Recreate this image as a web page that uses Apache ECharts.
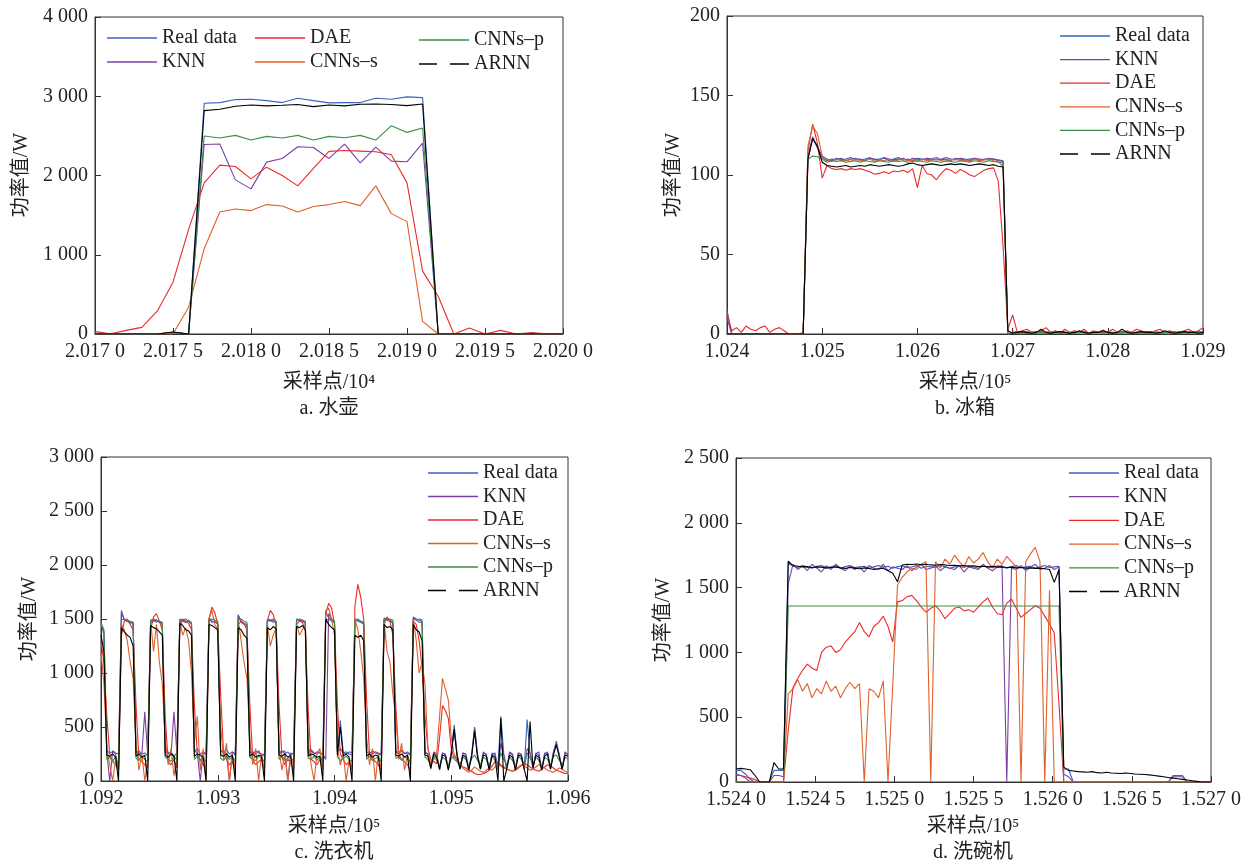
<!DOCTYPE html>
<html><head><meta charset="utf-8">
<script src="https://cdn.jsdelivr.net/npm/echarts@6/dist/echarts.min.js"></script>
<style>html,body{margin:0;padding:0;background:#fff}#c{width:1253px;height:866px}</style>
</head><body><div id="c"></div><script>
const seriesNames = ['Real data','KNN','DAE','CNNs–s','CNNs–p','ARNN'];
const colors = ['#3465c0','#7d3fa3','#ea2a2a','#e0602c','#3a8f45','#000000'];

// sample positions (x) of each panel
function range(start, step, n){ const r=[]; for(let i=0;i<n;i++) r.push(+(start+step*i).toFixed(3)); return r; }
const aX = range(20170, 1, 31);
const bX = range(102400, 5, 101);
const cX = range(109200, 2.5, 161);
const dX = range(152400, 3, 101);

// ---------- a. 水壶 ----------
const aReal = [0,0,0,0,0,20,0,2911,2920,2958,2962,2945,2920,2975,2945,2916,2920,2920,2975,2962,2992,2983,0,0,0,0,0,0,0,0,0];
const aKNN  = [0,0,0,0,0,20,0,2392,2397,1945,1831,2169,2215,2363,2354,2215,2397,2160,2359,2181,2173,2409,0,0,0,0,0,0,0,0,0];
const aDAE  = [30,4,46,84,291,654,1321,1907,2131,2114,1958,2105,2000,1869,2089,2304,2316,2308,2300,2262,1907,793,477,0,76,0,46,0,17,0,0];
const aCNNs = [0,0,0,0,0,0,338,1076,1540,1578,1557,1633,1616,1540,1608,1633,1671,1620,1869,1519,1418,160,0,0,0,0,0,0,0,0,0];
const aCNNp = [0,0,0,0,0,20,0,2498,2473,2506,2447,2494,2473,2506,2447,2494,2477,2506,2447,2629,2544,2599,0,0,0,0,0,0,0,0,0];
const aARNN = [0,0,0,0,0,25,0,2819,2835,2873,2890,2878,2886,2895,2869,2890,2878,2899,2903,2895,2882,2903,0,0,0,0,0,0,0,0,0];

// ---------- b. 冰箱 ----------
const bReal = [15,0,0,0,0,0,0,0,0,0,0,0,0,0,0,0,0,
 112,124,117,111,
 109,110,109.5,110.5,109,110,110.5,109.5,110,111,109.5,110,110.5,109,110,111,109.5,110,109,110.5,110,109.5,110,111,109.5,110,109,110.5,110,109.5,110,110.5,109,110,109.5,110,109,
 108.5,
 0,1,1.5,1,0.5,1,1.5,1,1,0.5, 1.5,1,1,0.5,1,1.5,1,0.5,1,1, 1.5,1,0.5,1,1.5,1,1,0.5,1,1.5, 1,1,0.5,1,1.5,1,0.5,1,1,1.5, 1,1];
const bKNN = [10,0,0,0,0,0,0,0,0,0,0,0,0,0,0,0,0,
 110,123,118,112,
 110,109,110.5,109.5,110,111,109.5,110,109,110.5,110,109.5,111,110,109.5,110,110.5,109,110.5,110,109.5,110.5,110,109.5,110,111,110,109.5,110.5,110,109,110.5,110,109.5,110.5,110,109.5,
 109,
 0,1,1,1.5,0.5,1,1,1.5,1,0.5, 1,1.5,1,0.5,1,1,1.5,0.5,1,1, 1,1.5,0.5,1,1,1.5,1,0.5,1,1, 1.5,1,0.5,1,1,1.5,0.5,1,1,1, 1.5,1];
const bDAE = [13,2,4,1,5,3,2,4,5,1,3,4,2,0,0,0,1,
 115,132,120,98,
 106,104,103.5,104,103,104,103.5,104,103,102,100.5,101,102,101,102.5,102,103,101.5,104,92,106,101,100,97,101,104,103,101,103.5,102,100,99,101,103,104,104.5,96,
 55,
 3,12,1,2,3,1,0.5,2,4,1, 2,0.5,3,1,2,1,3,0.5,2,1, 2.5,1,3,1,0.5,2,1,3,2,1, 0.5,2,3,1,2,1,0.5,2,3,1, 2,4];
const bCNNs = [0,0,0,0,0,0,0,0,0,0,0,0,0,0,0,0,0,
 118,131,126,112,
 109.5,108.5,110,109,109.5,108.5,110,109,109.5,110,108.5,109.5,109,110,108.5,109.5,110,109,109.5,108.5,110,109,109.5,110,109,108.5,109.5,110,109,109.5,108.5,110,109,109.5,110,109,108.5,
 105,
 0,1,1,0.5,1.5,1,1,0.5,1,1.5, 1,1,0.5,1,1.5,1,1,0.5,1,1, 1.5,1,1,0.5,1,1.5,1,1,0.5,1, 1,1.5,1,0.5,1,1,1.5,1,0.5,1, 1,1];
const bCNNp = [0,0,0,0,0,0,0,0,0,0,0,0,0,0,0,0,0,
 110,112,111.5,110,
 108,109,108.5,109,108,108.5,109,108,109,108.5,108,109,108.5,108,109,108.5,109,108,108.5,109,108.5,108,109,108.5,108,109,108.5,108,109,108.5,108,109,108.5,108,109,108.5,108,
 107.5,
 0,1,0.5,1,1,0.5,1,1,0.5,1, 1,0.5,1,1,0.5,1,1,0.5,1,1, 0.5,1,1,0.5,1,1,0.5,1,1,0.5, 1,1,0.5,1,1,0.5,1,1,0.5,1, 1,0.5];
const bARNN = [0,0,0,0,0,0,0,0,0,0,0,0,0,0,0,0,0,
 110,123,118,108,
 106,105.5,105,105.5,106,105,105.5,106,105.5,106.5,
 106,105.5,106,106.5,106,105.5,106,107,107.5,106.5,
 106,106.5,107,106.5,106,106.5,107,106.5,107,106.5,
 106,106.5,107,106.5,106,106.5,105.5,
 105,
 2,0.5,1,1.5,1,0.5,1,3,1,0.5, 1,1.5,1,0.5,1,2,1,0.5,1,1, 2,1,0.5,1,3,1,0.5,1,1.5,1, 1,0.5,1,2,1,0.5,1,1.5,1,1, 0.5,1];

// ---------- c. 洗衣机 ----------
const cReal = [1450,1380,
 280,260,270,250,120,
 1580,1490,1480,1470,1460,
 260,280,250,260,230,
 1480,1490,1470,1480,1460,
 280,250,270,230,260,
 1490,1480,1470,1490,1460,
 270,300,250,270,240,
 1510,1480,1470,1460,
 280,260,290,250,270,240,
 1540,1480,1460,1450,
 270,250,280,260,250,230,
 1490,1480,1490,1470,
 260,280,250,270,240,260,
 1500,1490,1480,1470,
 270,290,260,250,270,240,
 1570,1510,1480,1470,
 280,560,260,270,250,240,
 1500,1490,1480,1460,
 270,250,280,260,250,240,
 1510,1500,1490,1470,
 280,260,290,250,270,240,
 1520,1500,1490,1480,
 270,250,130,260,240,120,260,250,110,260, 520,250,120,260,240,110,250,490,240,120,
 260,250,110,260,240,130,600,250,120,260, 240,110,260,250,120,570,250,130,260,240,
 110,250,270,120,260,370,240,120,260,250];
const cKNN = [1460,1400,
 260,0,280,260,250,
 1560,1490,1480,1460,1470,
 270,260,250,640,240,
 1470,1480,1490,1470,1450,
 260,270,250,640,260,
 1480,1490,1470,1480,1450,
 280,260,0,270,250,
 1500,1470,1480,1450,
 270,280,250,0,270,250,
 1530,1470,1450,1440,
 260,270,250,280,240,250,
 1480,1490,1470,1480,
 250,270,280,0,260,250,
 1490,1480,1490,1460,
 260,280,250,270,260,250,
 200,1550,1490,1470,
 270,300,260,250,270,260,
 1490,1480,1470,1450,
 260,270,250,270,260,250,
 1500,1490,1480,1460,
 270,250,280,260,250,260,
 1510,1490,1470,1470,
 260,250,110,270,250,100,260,240,120,270, 470,240,110,260,250,120,240,500,250,110,
 270,240,120,250,260,100,350,240,110,270, 250,120,260,240,110,300,260,120,250,270,
 100,260,250,110,270,330,250,100,270,240];
const cDAE = [1300,1100,
 600,250,180,150,100,
 1350,1480,1500,1450,1400,
 700,200,180,150,120,
 1400,1520,1550,1480,1400,
 600,180,150,200,120,
 1420,1500,1480,1460,1400,
 700,250,200,150,120,
 1500,1610,1560,1450,
 800,250,200,150,180,100,
 1450,1480,1460,1400,
 700,200,150,180,200,100,
 1480,1580,1540,1450,
 700,220,150,200,180,100,
 1450,1480,1470,1400,
 650,200,180,150,200,100,
 1550,1645,1600,1450,
 700,250,200,150,180,100,
 1620,1820,1700,1500,
 750,250,200,180,150,100,
 1450,1520,1480,1350,
 700,250,200,180,150,100,
 1480,1450,1300,1050,
 600,300,200,180,160,400,700,650,580,300, 200,180,150,130,120,100,90,70,60,60,
 70,80,100,140,180,170,150,130,110,100, 90,100,120,140,160,150,130,110,100,90,
 110,130,150,140,120,100,90,80,70,70];
const cCNNs = [1200,900,
 300,150,0,200,100,
 1450,1400,1300,1100,950,
 350,100,250,0,200,
 1480,1200,1450,1100,900,
 400,150,300,50,200,
 1480,1350,1420,1300,1000,
 350,600,100,300,0,
 1500,1580,1450,1400,
 500,200,350,0,250,100,
 1500,1300,1100,950,
 400,150,300,0,250,100,
 1450,1250,1350,1420,
 300,100,250,0,200,150,
 1450,1350,1400,1450,
 350,150,0,250,300,100,
 1580,1600,1500,1350,
 300,150,250,0,200,100,
 1500,1400,1200,950,
 400,150,300,0,250,100,
 1480,1200,1100,800,
 600,200,350,100,250,150,
 1500,1300,1000,1100,
 900,300,150,200,250,600,950,850,750,400, 250,200,150,120,100,80,100,130,110,90,
 80,100,120,100,130,150,140,120,110,100, 90,110,130,150,140,120,100,110,130,150,
 140,120,100,90,80,100,120,110,90,80];
const cCNNp = [1470,1350,
 200,220,180,230,100,
 1490,1500,1490,1480,1470,
 210,190,230,200,180,
 1490,1500,1490,1480,1470,
 220,200,180,230,190,
 1500,1490,1500,1480,1470,
 200,230,190,210,180,
 1490,1500,1490,1480,
 210,190,230,200,220,180,
 1490,1500,1480,1470,
 220,200,190,230,210,180,
 1500,1490,1500,1480,
 200,230,190,210,220,180,
 1490,1500,1490,1480,
 210,200,230,190,220,180,
 1500,1490,1500,1480,
 220,190,210,230,200,180,
 1490,1500,1480,1470,
 200,230,190,210,220,180,
 1500,1490,1500,1490,
 210,220,190,230,200,180,
 1500,1490,1500,1490,
 220,200,150,230,190,140,220,200,130,210, 230,190,140,220,200,130,210,240,190,150,
 220,200,130,230,190,140,260,200,150,220, 190,130,230,200,140,260,210,150,220,190,
 130,220,200,140,230,240,190,150,220,200];
const cARNN = [1350,1200,
 240,230,250,220,0,
 1420,1380,1350,1330,1250,
 230,250,220,240,0,
 1440,1420,1410,1380,1350,
 240,220,250,230,0,
 1460,1440,1400,1390,1350,
 230,250,240,220,0,
 1450,1440,1420,1400,
 240,230,250,220,240,0,
 1420,1400,1350,1320,
 230,250,220,240,230,0,
 1420,1400,1430,1410,
 240,230,250,220,240,0,
 1430,1420,1440,1400,
 230,250,240,220,230,0,
 1500,1450,1420,1400,
 240,500,230,250,220,0,
 1350,1330,1350,1300,
 230,250,220,240,230,0,
 1450,1420,1430,1400,
 240,230,250,220,240,0,
 1450,1400,1380,1300,
 240,230,120,250,220,110,240,230,100,240, 480,230,110,240,220,100,230,460,220,110,
 240,230,100,240,220,0,580,0,110,240, 220,100,240,230,110,0,550,120,240,220,
 100,230,250,110,240,340,220,110,240,230];

// ---------- d. 洗碗机 ----------
const dReal = [90,90,60,20,0,0,0,0,90,90,90,
 1690,1665,1655,1670,1660,1650,1665,1670,1655,1660,
 1668,1650,1662,1670,1655,1660,1665,1650,1660,1670,
 1658,1665,1650,1662,1668,1655,1660,1670,1650,1665,
 1660,1655,1670,1662,1650,1660,1665,1655,1670,1660,
 1650,1665,1660,1655,1668,1660,1650,1662,1670,1655,
 1660,1665,1650,1660,1670,1655,1660,1665,
 100,100,0,0,0,0,0,0,0,0, 0,0,0,0,0,0,0,0,0,0, 0,0,0,50,50,50,0,0,0,0, 0,0];
const dKNN = [60,50,30,0,0,0,0,0,50,50,40,
 1530,1680,1640,1670,1630,1680,1650,1620,1670,1640,
 1680,1650,1630,1670,1640,1660,1620,1670,1650,1640,
 1680,1630,1660,1650,1640,1670,1630,1660,1680,1640,
 1650,1670,1630,1660,1650,1640,1670,1620,1660,1650,
 1640,1680,1650,1630,1660,1670,0,1650,1640,1670,
 1630,1660,1680,1640,1650,1670,1640,1660,
 60,40,0,0,0,0,0,0,0,0, 0,0,0,0,0,0,0,0,0,0, 0,0,0,40,40,40,0,0,0,0, 0,0];
const dDAE = [50,50,40,30,20,0,0,0,0,0,0,
 400,730,800,860,910,880,860,1000,1040,1050,
 1000,1020,1080,1120,1160,1230,1160,1120,1200,1230,
 1280,1200,1080,1390,1400,1430,1440,1400,1350,1310,
 1340,1360,1320,1260,1300,1340,1350,1320,1330,1310,
 1350,1390,1420,1350,1300,1290,1380,1410,1340,1270,
 1300,1330,1360,1340,1280,1220,1150,600,
 0,0,0,0,0,0,0,0,0,0, 0,0,0,0,0,0,0,0,0,0, 0,0,0,0,0,0,0,0,0,0, 0,0];
const dCNNs = [0,0,0,0,0,0,0,0,0,0,0,
 680,720,790,700,760,650,720,680,780,700,
 740,650,720,770,720,760,0,720,700,650,
 780,0,750,1520,1580,1620,1650,1640,1680,1700,
 0,1700,1650,1720,1680,1750,1700,1660,1740,1690,
 1720,1770,1700,1650,1720,1680,1740,1700,1660,0,
 1700,1760,1810,1700,0,1480,0,0,
 0,0,0,0,0,0,0,0,0,0, 0,0,0,0,0,0,0,0,0,0, 0,0,0,0,0,0,0,0,0,0, 0,0];
const dCNNp = [0,0,0,0,0,0,0,0,0,0,0,
 1358,1358,1358,1358,1358,1358,1358,1358,1358,1358,
 1358,1358,1358,1358,1358,1358,1358,1358,1358,1358,
 1358,1358,1358,1358,1358,1358,1358,1358,1358,1358,
 1358,1358,1358,1358,1358,1358,1358,1358,1358,1358,
 1358,1358,1358,1358,1358,1358,1358,1358,1358,1358,
 1358,1358,1358,1358,1358,1358,1358,1358,
 0,0,0,0,0,0,0,0,0,0, 0,0,0,0,0,0,0,0,0,0, 0,0,0,0,0,0,0,0,0,0, 0,0];
const dARNN = [100,105,100,95,50,0,0,0,150,100,100,
 1705,1670,
 1665,1660,1662,1655,1660,1658,1650,1655,1660,1652,
 1648,1655,1650,1645,1652,1648,1640,1645,1650,1630,
 1610,1545,
 1675,1680,1678,1682,1676,1680,1675,1672,1678,1675,
 1670,1672,1668,1670,1665,1668,1662,1665,1660,1664,
 1658,1660,1655,1658,1652,1655,1650,1652,1648,1650,
 1645,1640,
 1540,1640,
 115,90,85,80,78,75,80,72,70,75, 70,68,65,70,66,62,60,58,55,50, 45,40,35,30,25,20,15,10,5,0, 0,0];

// ---------- tick settings ----------
const yTicksA = {min:0,max:4000,interval:1000};
const yTicksB = {min:0,max:200,interval:50};
const yTicksC = {min:0,max:3000,interval:500};
const yTicksD = {min:0,max:2500,interval:500};
const xTicksA = {min:20170,max:20200,interval:5};
const xTicksB = {min:102400,max:102900,interval:100};
const xTicksC = {min:109200,max:109600,interval:100};
const xTicksD = {min:152400,max:152700,interval:50};

const F = "'Liberation Serif','Noto Sans CJK SC',serif";
const FS = 20;
const ink = '#222';

function yFmt(v){ return v>=1000 ? Math.floor(v/1000)+' '+String(v%1000).padStart(3,'0') : String(v); }
function fmt4(div){ return v=>{ const s=(v/div).toFixed(4); return s.slice(0,5)+' '+s.slice(5); }; }
function fmt3(div){ return v=>(v/div).toFixed(3); }

const grids = [
  {left:95, top:17, width:468, height:317},
  {left:727, top:16, width:476, height:318},
  {left:101, top:457, width:467, height:324},
  {left:736, top:458, width:475, height:324}
].map(g=>Object.assign({show:true, borderColor:'#333', borderWidth:1, backgroundColor:'transparent', containLabel:false}, g));

function xAxis(i, t, fmt){
  return Object.assign({type:'value', gridIndex:i, axisLine:{show:true,lineStyle:{color:'#333',width:1}},
    axisTick:{show:true,inside:true,length:6,lineStyle:{color:'#333'}}, splitLine:{show:false},
    axisLabel:{formatter:fmt, fontFamily:F, fontSize:FS, color:ink, margin:8, showMinLabel:true, showMaxLabel:true}}, t);
}
function yAxis(i, t){
  return Object.assign({type:'value', gridIndex:i, axisLine:{show:true,lineStyle:{color:'#333',width:1}},
    axisTick:{show:true,inside:true,length:6,lineStyle:{color:'#333'}}, splitLine:{show:false},
    axisLabel:{formatter:yFmt, fontFamily:F, fontSize:FS, color:ink, margin:7, showMinLabel:true, showMaxLabel:true}}, t);
}

const panels = [
  {x:aX, ys:[aReal,aKNN,aDAE,aCNNs,aCNNp,aARNN]},
  {x:bX, ys:[bReal,bKNN,bDAE,bCNNs,bCNNp,bARNN]},
  {x:cX, ys:[cReal,cKNN,cDAE,cCNNs,cCNNp,cARNN]},
  {x:dX, ys:[dReal,dKNN,dDAE,dCNNs,dCNNp,dARNN]}
];
const series = [];
panels.forEach((p,gi)=>{
  p.ys.forEach((ys,si)=>{
    series.push({type:'line', name:seriesNames[si], xAxisIndex:gi, yAxisIndex:gi,
      data: ys.map((v,k)=>[p.x[k], v]), symbol:'none', showSymbol:false, silent:true,
      lineStyle:{color:colors[si], width:1.1}, itemStyle:{color:colors[si]}, z:2+si});
  });
});

const solidIcon = 'path://M0 0H50V1.3H0Z';
const dashIcon = 'path://M0 0H18V1.3H0Z M31 0H50V1.3H31Z';
function mkLegend(names, left, top, gap){
  return {show:true, orient:'vertical', left, top, padding:0, itemWidth:50, itemHeight:1.3, itemGap:gap,
    selectedMode:false, symbolKeepAspect:true,
    data: names.map(n => ({name:n, icon: n==='ARNN' ? dashIcon : solidIcon})),
    textStyle:{fontFamily:F, fontSize:FS, color:ink, lineHeight:20}};
}
const legends = [
  mkLegend(['Real data','KNN'], 107, 28, 4),
  mkLegend(['DAE','CNNs–s'], 255, 28, 4),
  mkLegend(['CNNs–p','ARNN'], 419, 30, 4),
  mkLegend(seriesNames, 1060, 26, 3.6),
  mkLegend(seriesNames, 428, 463, 3.5),
  mkLegend(seriesNames, 1069, 463, 3.7)
];

function txt(x,y,text,rot){
  return {type:'text', x, y, rotation:rot||0, silent:true,
    style:{text, fill:ink, font:FS+'px '+F, align:'center', verticalAlign:'middle'}};
}
const graphics = [
  txt(22,175,'功率值/W',Math.PI/2), txt(674,175,'功率值/W',Math.PI/2),
  txt(30,619,'功率值/W',Math.PI/2), txt(664,620,'功率值/W',Math.PI/2),
  txt(329,383,'采样点/10⁴'), txt(965,383,'采样点/10⁵'),
  txt(334,827,'采样点/10⁵'), txt(973,827,'采样点/10⁵'),
  txt(329,409,'a. 水壶'), txt(965,409,'b. 冰箱'),
  txt(334,853,'c. 洗衣机'), txt(973,853,'d. 洗碗机')
];

const chart = echarts.init(document.getElementById('c'), null, {renderer:'canvas'});
chart.setOption({
  animation:false,
  backgroundColor:'#fff',
  grid: grids,
  xAxis: [xAxis(0,xTicksA,fmt4(1e4)), xAxis(1,xTicksB,fmt3(1e5)), xAxis(2,xTicksC,fmt3(1e5)), xAxis(3,xTicksD,fmt4(1e5))],
  yAxis: [yAxis(0,yTicksA), yAxis(1,yTicksB), yAxis(2,yTicksC), yAxis(3,yTicksD)],
  legend: legends,
  series,
  graphic: graphics
});
</script></body></html>
